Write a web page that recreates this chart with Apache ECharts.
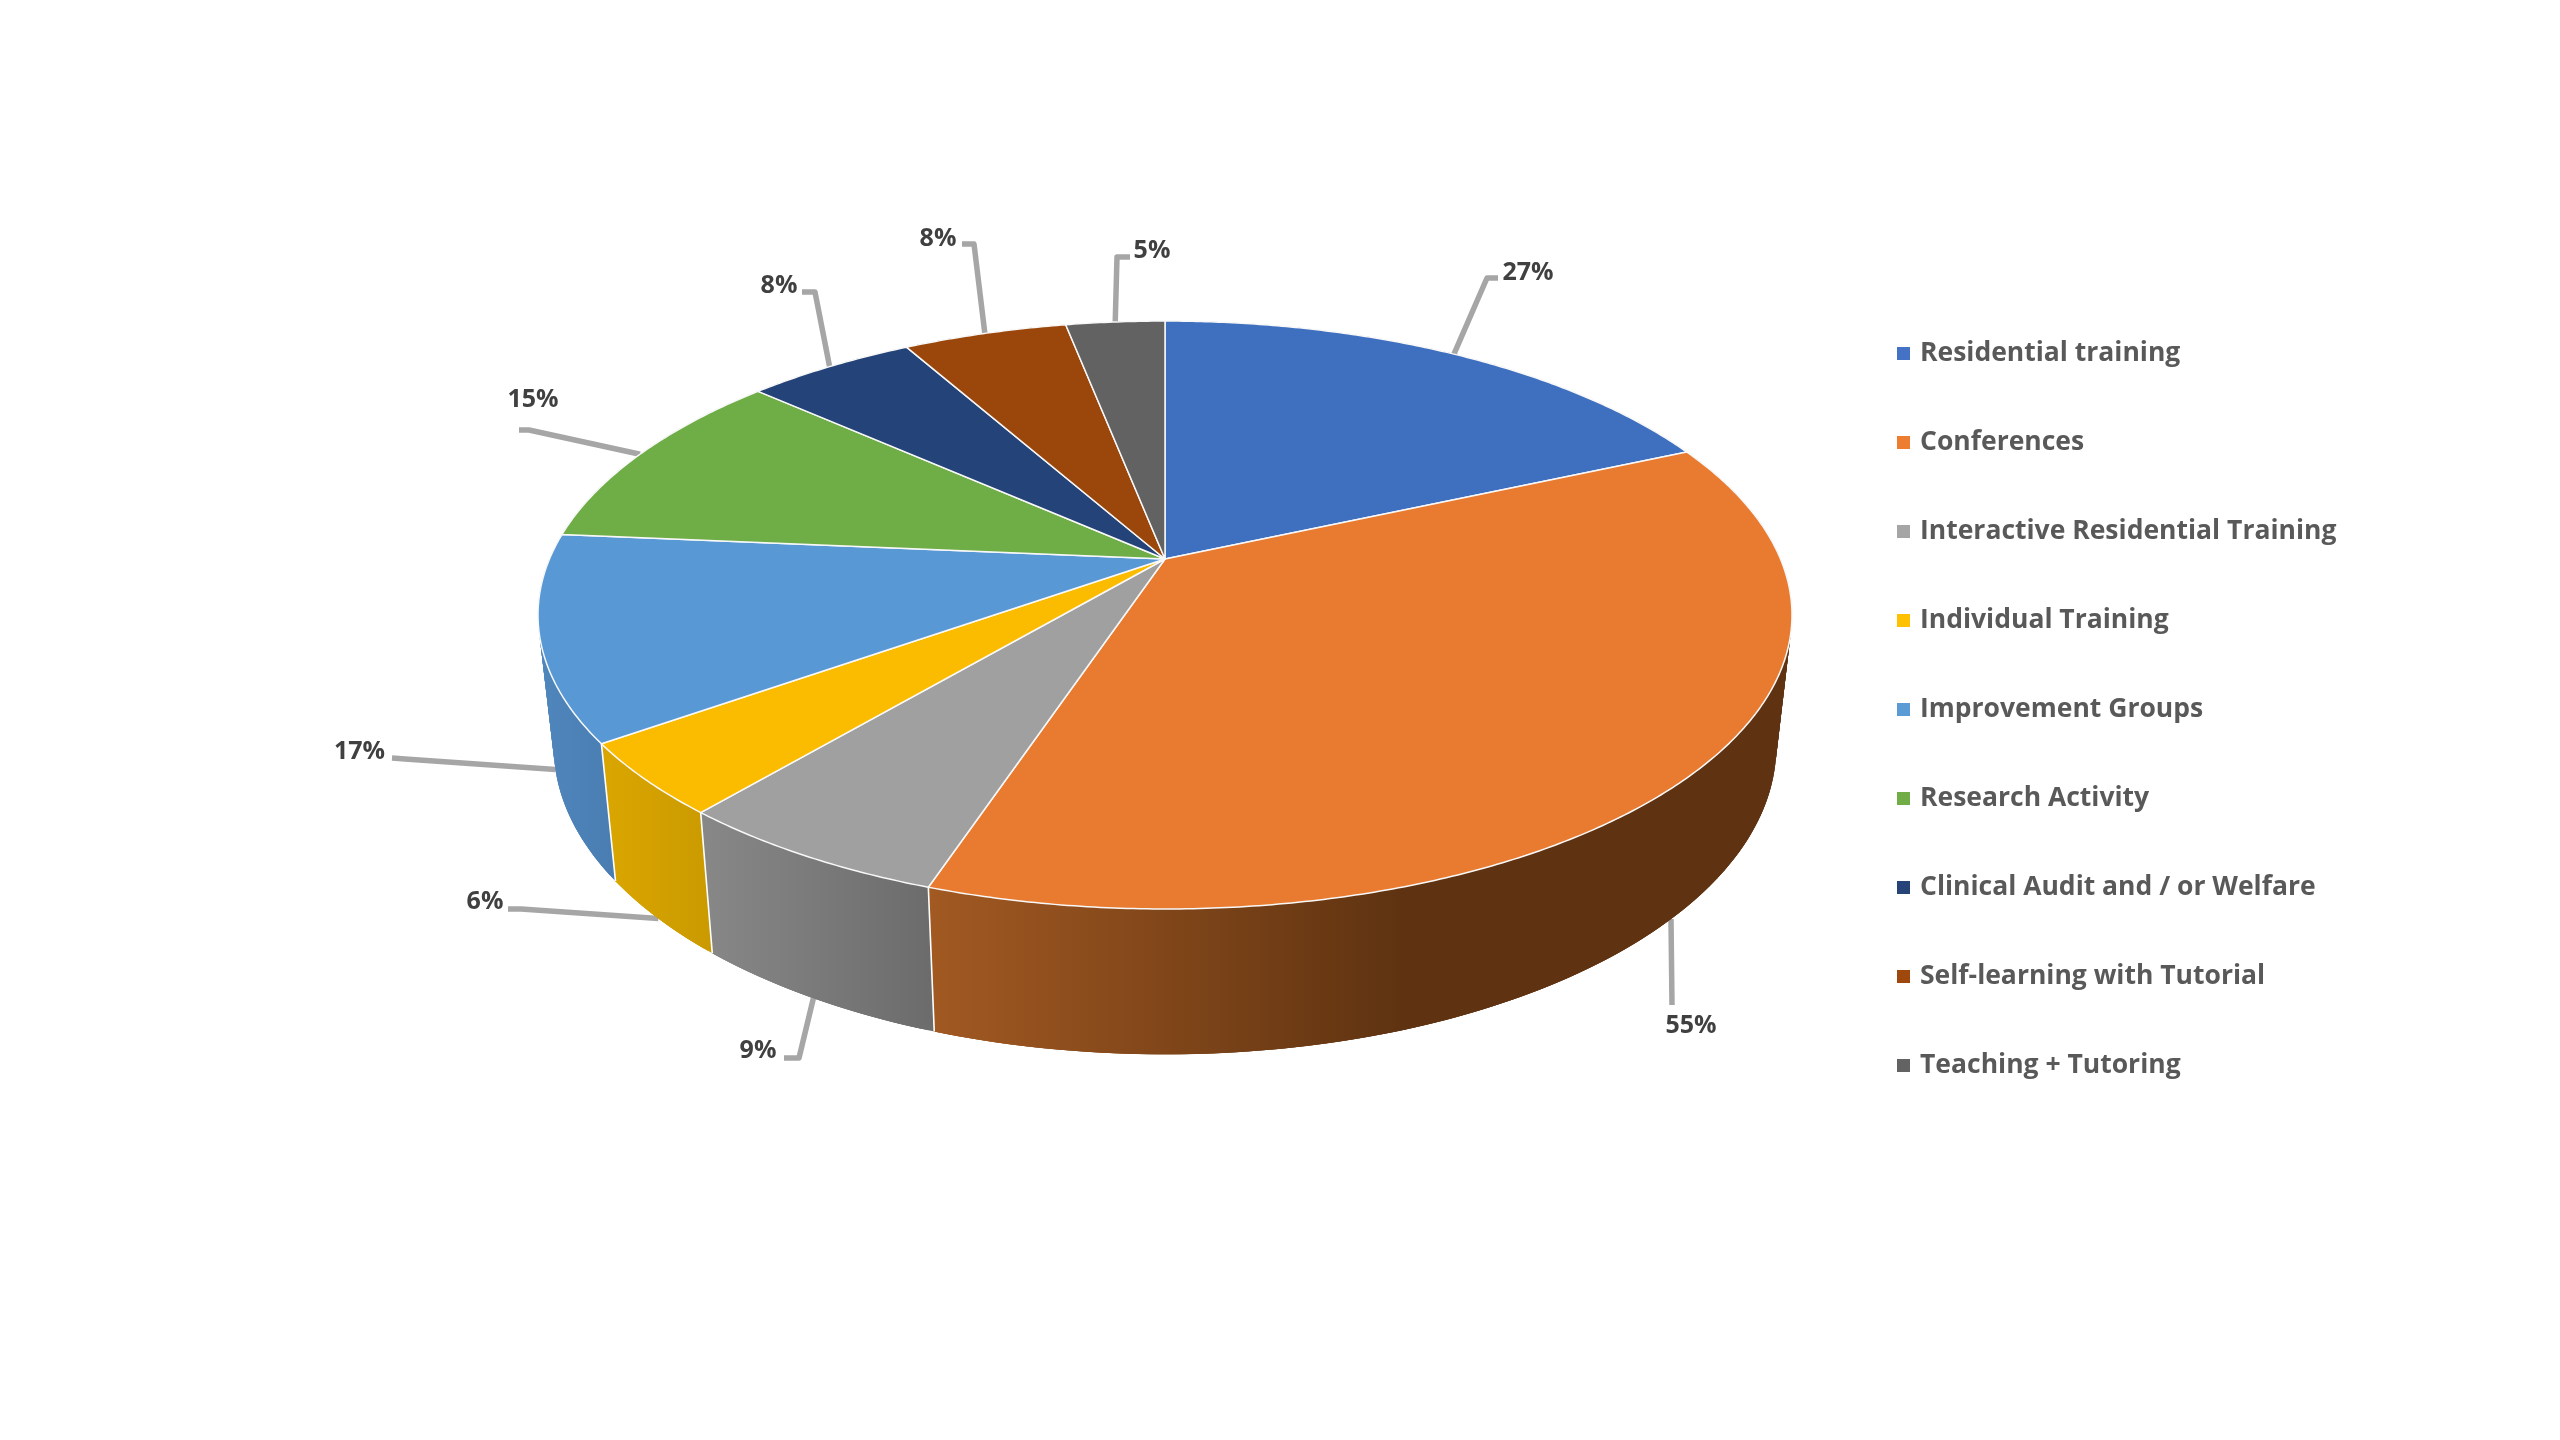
<!DOCTYPE html>
<html>
<head>
<meta charset="utf-8">
<style>html,body{margin:0;padding:0;background:#fff}#c{width:2560px;height:1440px}</style>
<script src="https://cdn.jsdelivr.net/npm/echarts@6/dist/echarts.min.js"></script>
</head>
<body>
<div id="c"></div>
<script>
const categories = ['Residential training','Conferences','Interactive Residential Training','Individual Training','Improvement Groups','Research Activity','Clinical Audit and / or Welfare','Self-learning with Tutorial','Teaching + Tutoring'];
const values = [27.49, 55.16, 9.07, 6, 16.88, 15.33, 7.85, 7.62, 4.6];
const topColors = ['#3F6FBF','#E97B30','#A0A0A0','#FBBC00','#5898D5','#6FAD47','#244378','#9B470C','#626262'];
const legendColors = ['#4472C4','#ED7D31','#A5A5A5','#FFC000','#5B9BD5','#70AD47','#264478','#9E480E','#636363'];
// side wall gradient: left colour, right colour, gradient x range
const sideColors = [['#2C4A80','#2C4A80'],['#A25922','#5F3311'],['#888888','#6C6C6C'],['#D9A500','#CA9A00'],['#4F86BC','#4A7EB3'],['#4A7330','#4A7330'],['#182C50','#182C50'],['#682F08','#682F08'],['#414141','#414141']];
const sideGradX = [[0,1],[930,1400],[700,930],[610,710],[540,610],[0,1],[0,1],[0,1],[0,1]];
// leader geometry: elbow, line end, label centre, anchor nudge in degrees
const elbows = [[1487,278],[1672,1005],[799,1058],[521,909],[405,759],[529,430],[815,292],[974,244],[1117,257]];
const ends = [[1498,278],[1672,1005],[784,1058],[508,909],[392,758],[519,430],[802,292],[962,244],[1130,257]];
const labelPos = [[1528,272.5],[1691,1025.5],[758,1050.5],[485,901.5],[359.5,751.5],[533,399.5],[779,285.5],[938,238.5],[1152,250.5]];
const anchorNudge = [0,0.6,0,0,0,0,0,0,0];

// perspective of the disc
const CX = 1165, CY = 559, RX = 615.5, RY = 283.3, K = 0.1905;
const BOTTOM_SX = 0.975, BOTTOM_A = 128.4, BOTTOM_B = 0.0485;
const total = values.reduce((a, b) => a + b, 0);
function topPt(deg) {
  const t = deg * Math.PI / 180, u = Math.sin(t), v = Math.cos(t), d = 1 + K * v;
  return [CX + RX * u / d, CY - RY * v / d];
}
function botPt(deg) {
  const p = topPt(deg);
  return [CX + BOTTOM_SX * (p[0] - CX), p[1] + BOTTOM_A + BOTTOM_B * (p[1] - CY)];
}
function arc(fn, a, b) {
  const n = Math.max(2, Math.ceil(Math.abs(b - a) / 0.5)), out = [];
  for (let i = 0; i <= n; i++) out.push(fn(a + (b - a) * i / n));
  return out;
}
function render(params, api) {
  const i = params.seriesIndex, val = api.value(0);
  let before = 0;
  for (let j = 0; j < i; j++) before += values[j];
  const a0 = before / total * 360, a1 = (before + val) / total * 360;
  const topEdge = arc(topPt, a0, a1), botEdge = arc(botPt, a0, a1);
  const children = [];
  // side wall: overlapping opaque quads so the silhouette follows the disc edge without seams
  const wall = {type:'linear', global:true, x:sideGradX[i][0], y:0, x2:sideGradX[i][1], y2:0,
    colorStops:[{offset:0,color:sideColors[i][0]},{offset:1,color:sideColors[i][1]}]};
  const last = topEdge.length - 1;
  for (let s = 0; s < last; s++) {
    const e = Math.min(s + 3, last);
    children.push({type:'polygon', z2:1, shape:{points:[topEdge[s], topEdge[e], botEdge[e], botEdge[s]]},
      style:{fill:wall, stroke:null}});
  }
  // white seams on the wall
  if (Math.cos(a0 * Math.PI / 180) < -0.2) {
    children.push({type:'line', z2:2, shape:{x1:topPt(a0)[0],y1:topPt(a0)[1],x2:botPt(a0)[0],y2:botPt(a0)[1]}, style:{stroke:'#fff',lineWidth:1.6}});
  }
  // top face
  children.push({type:'polygon', z2:3, shape:{points: [[CX, CY]].concat(topEdge)},
    style:{fill:topColors[i], stroke:'#F8F8F8', lineWidth:1.5, lineJoin:'round'}});
  // leader and label
  const mid = (a0 + a1) / 2 + anchorNudge[i];
  const anchor = Math.cos(mid * Math.PI / 180) < 0 ? botPt(mid) : topPt(mid);
  children.push({type:'polyline', z2:0, shape:{points:[anchor, elbows[i], ends[i]]},
    style:{stroke:'#A6A6A6', lineWidth:5.5, lineJoin:'round', fill:null}});
  children.push({type:'text', z2:4, style:{text:Math.round(val) + '%', x:labelPos[i][0], y:labelPos[i][1],
    align:'center', verticalAlign:'middle', fill:'#404040', font:'bold 25px "Open Sans"'}});
  return {type:'group', children};
}
const chart = echarts.init(document.getElementById('c'), null, {renderer:'canvas', width:2560, height:1440});
chart.setOption({
  animation:false,
  backgroundColor:'#ffffff',
  color:legendColors,
  legend:{
    orient:'vertical', left:1897, top:339.5, padding:0, icon:'rect', itemWidth:13, itemHeight:13, itemGap:61,
    selectedMode:false,
    data:categories,
    textStyle:{color:'#595959', fontFamily:'Open Sans', fontWeight:'bold', fontSize:26.5, lineHeight:28, padding:[0,0,0,5]}
  },
  series:categories.map((name, i) => ({
    type:'custom', name, coordinateSystem:'none', silent:true,
    data:[[values[i]]], renderItem:render
  }))
});
</script>
</body>
</html>
